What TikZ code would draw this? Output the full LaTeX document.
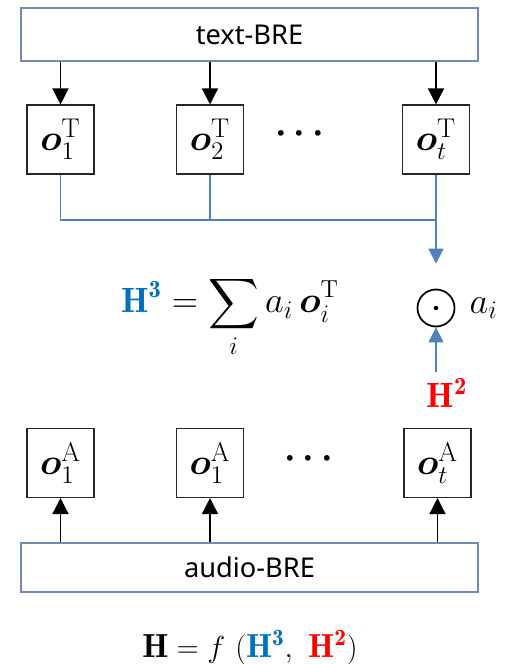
\documentclass[tikz,border=0pt]{standalone}
\usepackage{amsmath}
\usepackage{amssymb}
\usepackage{bm}
\usepackage{fontspec}
\newfontfamily\brefont{Noto Sans}
\usepackage{tikz}
\usetikzlibrary{arrows.meta, positioning, calc}

\definecolor{brebord}{RGB}{112,140,180}
\definecolor{lineblue}{RGB}{79,129,189}
\definecolor{hblue}{RGB}{0,112,192}
\definecolor{hred}{RGB}{255,0,0}

\begin{document}
\begin{tikzpicture}[
      x=0.2mm, y=-0.2mm,
      bre/.style={rectangle, draw=brebord, line width=0.6pt, minimum width=91.4mm, inner sep=0pt, font=\brefont\fontsize{15.5}{18}\selectfont},
      obox/.style={rectangle, draw=black!85, line width=0.6pt, minimum width=13.4mm, minimum height=13.8mm, inner sep=0pt, font=\fontsize{22}{26}\selectfont},
      eq/.style={font=\fontsize{20}{24}\selectfont},
      arr/.style={-{Triangle[length=3.2mm,width=3.2mm]}, line width=0.8pt},
      bline/.style={draw=lineblue, line width=0.7pt},
      barr/.style={bline, -{Triangle[length=3mm,width=3mm]}},
    ]
      \useasboundingbox (0,0) rectangle (510,664);

      % encoders
      \node[bre, minimum height=10.6mm] (textbre) at (249.5,34.5) {text-BRE};
      \node[bre, minimum height=9.8mm] (audiobre) at (249.5,567.5) {audio-BRE};

      % text outputs
      \node[obox] (tbox1) at (60.5,139.5) {$\bm{o}_1^{\mathrm{T}}$};
      \node[obox] (tbox2) at (210,139.5) {$\bm{o}_2^{\mathrm{T}}$};
      \node[obox] (tboxt) at (436,139.5) {$\bm{o}_t^{\mathrm{T}}$};
      \node[eq] (tdots) at (303,134) {$\bm{\cdots}$};

      % audio outputs
      \node[obox] (abox1) at (60.5,463) {$\bm{o}_1^{\mathrm{A}}$};
      \node[obox] (abox2) at (210,463) {$\bm{o}_1^{\mathrm{A}}$};
      \node[obox] (aboxt) at (437.5,463) {$\bm{o}_t^{\mathrm{A}}$};
      \node[eq] (adots) at (312,459) {$\bm{\cdots}$};

      \draw[arr] (tbox1 |- textbre.south) -- (tbox1.north);
      \draw[arr] (tbox2 |- textbre.south) -- (tbox2.north);
      \draw[arr] (tboxt |- textbre.south) -- (tboxt.north);

      \draw[arr] (abox1 |- audiobre.north) -- (abox1.south);
      \draw[arr] (abox2 |- audiobre.north) -- (abox2.south);
      \draw[arr] (aboxt |- audiobre.north) -- (aboxt.south);

      % attention
      \node[circle, draw, line width=1pt, minimum size=7.4mm, inner sep=0pt] (odot) at (436,308) {};
      \fill (odot.center) circle (0.45mm);
      \node[eq, anchor=west, xshift=1.6mm] (ai) at (odot.east) {$a_i$};
      \node[eq, text=hred] (h2) at (447,393) {$\mathbf{H}^{\mathbf{2}}$};

      \coordinate (junc) at (436,220);
      \draw[bline] (tbox1.south) |- (junc);
      \draw[bline] (tbox2.south) -- (tbox2.south |- junc);
      \draw[bline] (tboxt.south) -- (junc);
      \draw[barr, shorten >=5mm] (junc) -- (odot.north);
      \draw[barr] (odot |- h2.north) -- (odot.south);

      \node[eq, anchor=base] (sumeq) at (230,313)
        {$\displaystyle {\color{hblue}\mathbf{H}^{\mathbf{3}}} = \sum_i a_i\,\bm{o}_i^{\mathrm{T}}$};

      \node[eq, anchor=base, font=\fontsize{19}{23}\selectfont] (fuse) at (250,657)
        {$\mathbf{H} = f\ ({\color{hblue}\mathbf{H}^{\mathbf{3}}},\ {\color{hred}\mathbf{H}^{\mathbf{2}}})$};
    \end{tikzpicture}
\end{document}
